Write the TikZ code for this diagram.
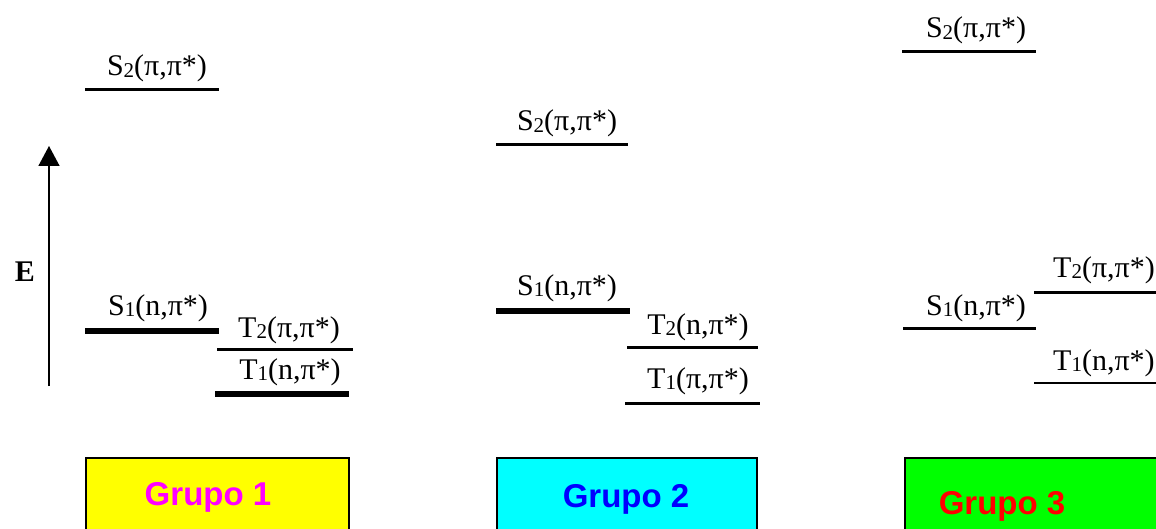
\documentclass[tikz,border=0pt]{standalone}
\usepackage{fontspec}
\setmainfont{Liberation Serif}
\setsansfont{Liberation Sans}
\usetikzlibrary{arrows.meta}
\definecolor{gyellow}{RGB}{255,255,0}
\definecolor{gcyan}{RGB}{0,255,255}
\definecolor{ggreen}{RGB}{0,255,0}
\definecolor{gmagenta}{RGB}{255,0,255}
\definecolor{gblue}{RGB}{0,0,255}
\definecolor{gred}{RGB}{255,0,0}
\newcommand\lvtxt[3]{#1\raisebox{-0.12ex}{\fontsize{21}{21}\selectfont #2}(#3)}
\begin{document}
\begin{tikzpicture}[x=1pt,y=-1pt,
  lvl/.style={line width=3pt},
  lvlthick/.style={line width=5.5pt},
  lvlthin/.style={line width=2.2pt},
  lbl/.style={anchor=base, inner sep=0pt, font=\fontsize{30}{30}\selectfont},
  grp/.style={anchor=base, inner sep=0pt, font=\fontsize{33}{33}\selectfont\sffamily\bfseries},
  boxstyle/.style={draw=black, line width=2.5pt}]
\useasboundingbox (0,0) rectangle (1156,529);
\clip (0,0) rectangle (1156,529);

% ---- energy axis
\coordinate (ebot) at (49,386);
\coordinate (etop) at (49,146);
\draw[line width=1.5pt,-{Triangle[length=20pt,width=21pt]}] (ebot) -- (etop);
\node[anchor=base, inner sep=0pt, font=\fontsize{30}{30}\selectfont\bfseries] (E) at (25,281) {E};

% ---- Grupo 1
\coordinate (g1s2a) at (85,90);   \coordinate (g1s2b) at (219,90);
\draw[lvl] (g1s2a) -- (g1s2b);
\node[lbl] (g1s2) at (157,76) {\lvtxt{S}{2}{π,π*}};
\coordinate (g1s1a) at (85,331);  \coordinate (g1s1b) at (219,331);
\draw[lvlthick] (g1s1a) -- (g1s1b);
\node[lbl] (g1s1) at (158,315) {\lvtxt{S}{1}{n,π*}};
\coordinate (g1t2a) at (217,349); \coordinate (g1t2b) at (353,349);
\draw[lvl] (g1t2a) -- (g1t2b);
\node[lbl] (g1t2) at (289,337) {\lvtxt{T}{2}{π,π*}};
\coordinate (g1t1a) at (215,394); \coordinate (g1t1b) at (349,394);
\draw[lvlthick] (g1t1a) -- (g1t1b);
\node[lbl] (g1t1) at (290,379) {\lvtxt{T}{1}{n,π*}};

% ---- Grupo 2
\coordinate (g2s2a) at (496,145); \coordinate (g2s2b) at (628,145);
\draw[lvl] (g2s2a) -- (g2s2b);
\node[lbl] (g2s2) at (567,131) {\lvtxt{S}{2}{π,π*}};
\coordinate (g2s1a) at (496,311); \coordinate (g2s1b) at (630,311);
\draw[lvlthick] (g2s1a) -- (g2s1b);
\node[lbl] (g2s1) at (567,295) {\lvtxt{S}{1}{n,π*}};
\coordinate (g2t2a) at (627,347); \coordinate (g2t2b) at (758,347);
\draw[lvl] (g2t2a) -- (g2t2b);
\node[lbl] (g2t2) at (698,334) {\lvtxt{T}{2}{n,π*}};
\coordinate (g2t1a) at (625,403); \coordinate (g2t1b) at (760,403);
\draw[lvl] (g2t1a) -- (g2t1b);
\node[lbl] (g2t1) at (698,388) {\lvtxt{T}{1}{π,π*}};

% ---- Grupo 3
\coordinate (g3s2a) at (902,52);  \coordinate (g3s2b) at (1036,52);
\draw[lvl] (g3s2a) -- (g3s2b);
\node[lbl] (g3s2) at (976,38) {\lvtxt{S}{2}{π,π*}};
\coordinate (g3s1a) at (903,328); \coordinate (g3s1b) at (1036,328);
\draw[lvl] (g3s1a) -- (g3s1b);
\node[lbl] (g3s1) at (976,315) {\lvtxt{S}{1}{n,π*}};
\coordinate (g3t2a) at (1034,292); \coordinate (g3t2b) at (1160,292);
\draw[lvl] (g3t2a) -- (g3t2b);
\node[lbl, anchor=base west] (g3t2) at (1053,277) {\lvtxt{T}{2}{π,π*}};
\coordinate (g3t1a) at (1034,383); \coordinate (g3t1b) at (1160,383);
\draw[lvlthin] (g3t1a) -- (g3t1b);
\node[lbl, anchor=base west] (g3t1) at (1053,370) {\lvtxt{T}{1}{n,π*}};

% ---- group boxes
\draw[boxstyle, fill=gyellow] (86,458) rectangle (349,545);
\node[grp, text=gmagenta] (grupo1) at (208,505) {Grupo 1};
\draw[boxstyle, fill=gcyan] (497,458) rectangle (757,545);
\node[grp, text=gblue] (grupo2) at (626,507) {Grupo 2};
\draw[boxstyle, fill=ggreen] (905,458) rectangle (1170,545);
\node[grp, text=gred] (grupo3) at (1002,514) {Grupo 3};
\end{tikzpicture}
\end{document}
